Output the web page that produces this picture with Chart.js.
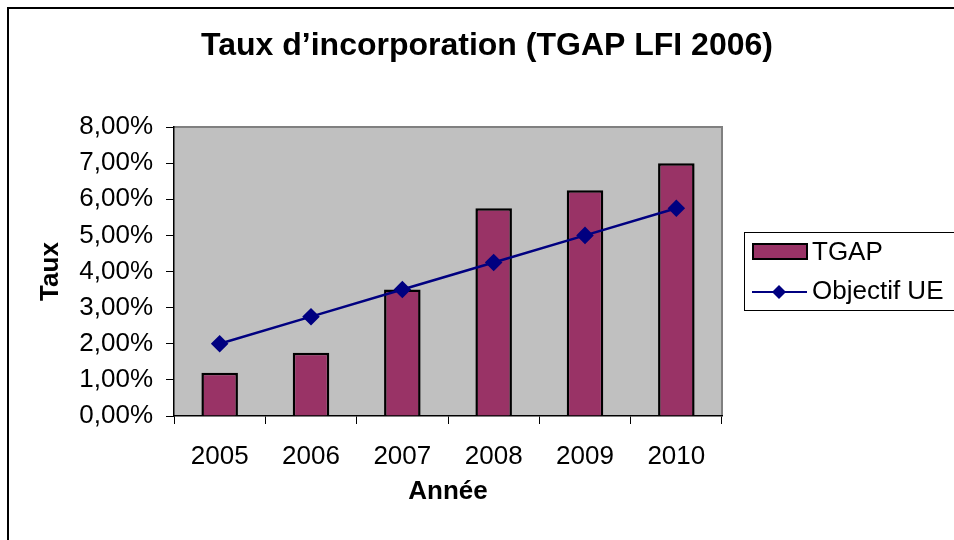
<!DOCTYPE html>
<html>
<head>
<meta charset="utf-8">
<script src="https://cdn.jsdelivr.net/npm/chart.js@4"></script>
<style>
    html, body { margin: 0; padding: 0; background: #fff; }
    #wrap { width: 954px; height: 540px; position: relative; }
</style>
</head>
<body>
<div id="wrap"><canvas id="chart" width="954" height="540"></canvas></div>
<script>
const years = ['2005', '2006', '2007', '2008', '2009', '2010'];
const tgap = [1.2, 1.75, 3.5, 5.75, 6.25, 7.0];
const objectifUE = [2.0, 2.75, 3.5, 4.25, 5.0, 5.75];
const yTicks = [0, 1, 2, 3, 4, 5, 6, 7, 8];

const FONT = '"Liberation Sans", Arial, sans-serif';
const BAR_COLOR = '#993366';
const LINE_COLOR = '#000080';

// gray plot background + outer frame + title + boxed legend
const excelLook = {
    id: 'excelLook',
    beforeDraw(chart) {
        const { ctx, chartArea: a } = chart;
        ctx.save();
        ctx.fillStyle = '#c0c0c0';
        ctx.fillRect(a.left, a.top, a.right - a.left, a.bottom - a.top);
        ctx.strokeStyle = '#808080';
        ctx.lineWidth = 2;
        ctx.beginPath();
        ctx.moveTo(a.left, a.top);
        ctx.lineTo(a.right, a.top);
        ctx.lineTo(a.right, a.bottom);
        ctx.stroke();

        // outer frame
        ctx.strokeStyle = '#000';
        ctx.lineWidth = 2;
        ctx.beginPath();
        ctx.moveTo(8, 540);
        ctx.lineTo(8, 8);
        ctx.lineTo(954, 8);
        ctx.stroke();

        // title
        ctx.fillStyle = '#000';
        ctx.font = 'bold 32px ' + FONT;
        ctx.textAlign = 'center';
        ctx.textBaseline = 'middle';
        ctx.fillText('Taux d\u2019incorporation (TGAP LFI 2006)', 487, 46);
        ctx.restore();
    },
    afterDraw(chart) {
        const { ctx } = chart;
        const bar = chart.data.datasets[1];
        const line = chart.data.datasets[0];
        ctx.save();
        ctx.strokeStyle = '#000';
        ctx.lineWidth = 1;
        ctx.strokeRect(744.5, 232.5, 220, 78);

        // TGAP swatch
        ctx.fillStyle = bar.backgroundColor;
        ctx.fillRect(753, 244, 54, 15);
        ctx.lineWidth = 2;
        ctx.strokeRect(753, 244, 54, 15);

        // line + diamond
        ctx.strokeStyle = line.borderColor;
        ctx.lineWidth = 2;
        ctx.beginPath();
        ctx.moveTo(752, 292);
        ctx.lineTo(807, 292);
        ctx.stroke();
        ctx.fillStyle = line.borderColor;
        ctx.beginPath();
        ctx.moveTo(779, 285);
        ctx.lineTo(786, 292);
        ctx.lineTo(779, 299);
        ctx.lineTo(772, 292);
        ctx.closePath();
        ctx.fill();

        ctx.fillStyle = '#000';
        ctx.font = '26px ' + FONT;
        ctx.textAlign = 'left';
        ctx.textBaseline = 'middle';
        ctx.fillText(bar.label, 812, 253);
        ctx.fillText(line.label, 812, 292);
        ctx.restore();
    }
};

new Chart(document.getElementById('chart'), {
    type: 'bar',
    data: {
        labels: years,
        datasets: [
            {
                type: 'line',
                label: 'Objectif UE',
                data: objectifUE,
                borderColor: LINE_COLOR,
                backgroundColor: LINE_COLOR,
                borderWidth: 2.5,
                pointStyle: 'rectRot',
                pointRadius: 7,
                pointHoverRadius: 7,
                tension: 0,
                order: 0
            },
            {
                label: 'TGAP',
                data: tgap,
                backgroundColor: BAR_COLOR,
                borderColor: '#000',
                borderWidth: 2.5,
                barPercentage: 0.4,
                categoryPercentage: 1.0,
                order: 1
            }
        ]
    },
    options: {
        responsive: false,
        animation: false,
        layout: { padding: { top: 127, right: 232, left: 0, bottom: 0 } },
        plugins: {
            legend: { display: false },
            title: { display: false },
            tooltip: { enabled: false }
        },
        scales: {
            x: {
                offset: true,
                grid: { offset: true, drawOnChartArea: false, color: '#000', tickLength: 8, lineWidth: 1 },
                border: { color: '#000', width: 1.5 },
                ticks: { color: '#000', font: { family: FONT, size: 26 }, padding: 17, maxRotation: 0 },
                title: {
                    display: true, text: 'Année', color: '#000',
                    font: { family: FONT, size: 26, weight: 'bold' },
                    padding: { top: 0, bottom: 33 }
                },
                afterFit(scale) { scale.height = 124; }
            },
            y: {
                min: 0,
                max: 8,
                afterBuildTicks(scale) { scale.ticks = yTicks.map(v => ({ value: v })); },
                grid: { drawOnChartArea: false, color: '#000', tickLength: 8, lineWidth: 1 },
                border: { color: '#000', width: 1.5 },
                ticks: {
                    color: '#000', font: { family: FONT, size: 26 }, padding: 13,
                    callback: v => v.toFixed(2).replace('.', ',') + '%'
                },
                title: {
                    display: true, text: 'Taux', color: '#000',
                    font: { family: FONT, size: 26, weight: 'bold' },
                    padding: { top: 35, bottom: 0 }
                },
                afterFit(scale) { scale.width = 174; }
            }
        }
    },
    plugins: [excelLook]
});
</script>
</body>
</html>
